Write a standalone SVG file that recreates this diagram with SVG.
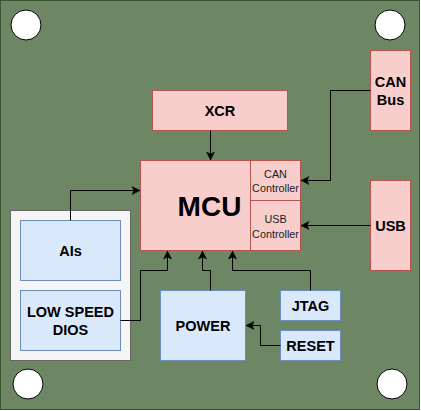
<svg xmlns="http://www.w3.org/2000/svg" width="421" height="411" viewBox="0 0 421 411">
<style>
.board{fill:#6d8764;stroke:#3a5431;stroke-width:1}
.hole{fill:#ffffff;stroke:#000000;stroke-width:1}
.red{fill:#f8cecc;stroke:#b85450;stroke-width:1}
.blue{fill:#dae8fc;stroke:#6c8ebf;stroke-width:1}
.grp{fill:#f5f5f5;stroke:#666666;stroke-width:1}
.lbl{font-family:"Liberation Sans",Arial,sans-serif;font-weight:bold;font-size:14.5px;fill:#000000;text-anchor:middle}
.big{font-family:"Liberation Sans",Arial,sans-serif;font-weight:bold;font-size:28px;fill:#000000;text-anchor:middle}
.sm{font-family:"Liberation Sans",Arial,sans-serif;font-size:10.8px;fill:#1a1a1a;text-anchor:middle}
.wire{fill:none;stroke:#000000;stroke-width:1;marker-end:url(#arr)}
</style>
<defs>
<marker id="arr" markerUnits="userSpaceOnUse" markerWidth="10" markerHeight="10" viewBox="-9 -5 10 10" refX="0" refY="0" orient="auto">
<path d="M0,0 L-8,-4 L-6,0 L-8,4 Z" fill="#000000" stroke="#000000" stroke-width="0.5"/>
</marker>
</defs>
<rect class="board" x="0.5" y="0.5" width="419" height="409"/>
<circle class="hole" cx="26" cy="25" r="15"/>
<circle class="hole" cx="390" cy="25" r="15"/>
<circle class="hole" cx="28" cy="384" r="15"/>
<circle class="hole" cx="392" cy="384" r="15"/>

<g id="io-group">
<rect class="grp" x="10.5" y="210.5" width="120" height="150"/>
</g>
<g id="ais">
<rect class="blue" x="20.5" y="220.5" width="100" height="60"/>
<text class="lbl" x="70.5" y="256">AIs</text>
</g>
<g id="dios">
<rect class="blue" x="20.5" y="290.5" width="100" height="60"/>
<text class="lbl" x="70.5" y="316.5">LOW SPEED</text>
<text class="lbl" x="70.5" y="334.5">DIOS</text>
</g>
<g id="xcr">
<rect class="red" x="152.5" y="90.5" width="135" height="40"/>
<text class="lbl" x="220" y="116">XCR</text>
</g>
<g id="mcu">
<rect class="red" x="140.5" y="160.5" width="160" height="90"/>
<line x1="250.5" y1="160.5" x2="250.5" y2="250.5" stroke="#b85450"/>
<line x1="250.5" y1="200.5" x2="300.5" y2="200.5" stroke="#b85450"/>
<text class="big" x="209.5" y="216">MCU</text>
<text class="sm" x="275.5" y="178">CAN</text>
<text class="sm" x="275.5" y="191.5">Controller</text>
<text class="sm" x="275.5" y="223">USB</text>
<text class="sm" x="275.5" y="237.5">Controller</text>
</g>
<g id="canbus">
<rect class="red" x="370.5" y="50.5" width="40" height="80"/>
<text class="lbl" x="390.5" y="86.5">CAN</text>
<text class="lbl" x="390.5" y="105">Bus</text>
</g>
<g id="usb">
<rect class="red" x="370.5" y="180.5" width="40" height="90"/>
<text class="lbl" x="390.5" y="230.5">USB</text>
</g>
<g id="power">
<rect class="blue" x="160.5" y="290.5" width="85" height="70"/>
<text class="lbl" x="203" y="330.5">POWER</text>
</g>
<g id="jtag">
<rect class="blue" x="280.5" y="290.5" width="60" height="30"/>
<text class="lbl" x="310.5" y="310.5">JTAG</text>
</g>
<g id="reset">
<rect class="blue" x="280.5" y="330.5" width="60" height="30"/>
<text class="lbl" x="310.5" y="350.5">RESET</text>
</g>

<g id="connectors">
<path class="wire" d="M210.5 130.5 V160"/>
<path class="wire" d="M70.5 220.5 V190.5 H140"/>
<path class="wire" d="M120.5 320.5 H140.5 V270.5 H167.5 V251"/>
<path class="wire" d="M210.5 290.5 V270.5 H202.5 V251"/>
<path class="wire" d="M310.5 290.5 V270.5 H232.5 V251"/>
<path class="wire" d="M280.5 345.5 H260.5 V325.5 H246"/>
<path class="wire" d="M370.5 90.5 H330.5 V180.5 H301"/>
<path class="wire" d="M370.5 225.5 H301"/>
</g>
</svg>
